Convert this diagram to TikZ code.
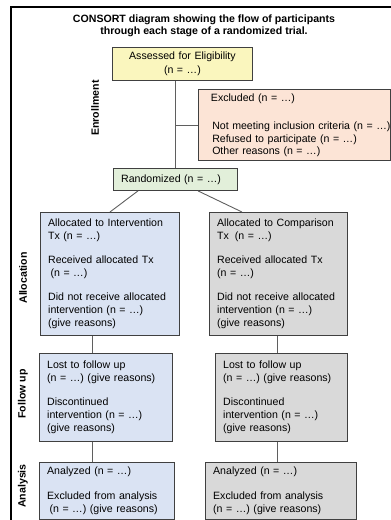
\documentclass[tikz,border=0pt]{standalone}
\usepackage{fontspec}
\setmainfont{Liberation Sans}
\usetikzlibrary{calc}
\definecolor{cyellow}{RGB}{250,246,190}
\definecolor{cpeach}{RGB}{252,228,214}
\definecolor{cgreen}{RGB}{226,239,218}
\definecolor{cblue}{RGB}{218,227,243}
\definecolor{cgray}{RGB}{217,217,217}
\definecolor{cborder}{RGB}{64,64,64}
\definecolor{cline}{RGB}{95,95,95}
\begin{document}
\begin{tikzpicture}[x=1pt,y=-1pt,
  bx/.style={draw=cborder, line width=0.9pt, anchor=north west, inner ysep=0pt,
    inner xsep=7.7pt, align=left, font=\fontsize{10.6}{13}\selectfont},
  lab/.style={rotate=90, inner sep=0pt, font=\fontsize{10.6}{13}\selectfont\bfseries},
  conn/.style={draw=cline, line width=0.9pt},
  frame/.style={draw=black, line width=1.3pt}]
\useasboundingbox (0,0) rectangle (391,520);
\begin{scope}
  \clip (0,0) rectangle (391,520);
  \draw[frame] (11,540) -- (11,7) -- (410,7);
\end{scope}

\node[inner sep=0pt, align=center, font=\fontsize{10.6}{12.3}\selectfont\bfseries] (title) at (204,25.5)
  {CONSORT diagram showing the flow of participants\\through each stage of a randomized trial.};

\node[bx, fill=cyellow, align=center, minimum width=140pt, minimum height=33pt, text width=124.6pt,
  font=\fontsize{10.6}{13.8}\selectfont] (elig) at (112,47) {Assessed for Eligibility\\(n = …)};

\node[bx, fill=cpeach, inner xsep=12.5pt, minimum width=192pt, minimum height=71pt, text width=167pt,
  font=\fontsize{10.6}{12.2}\selectfont] (excl) at (198,89)
  {Excluded (n = …)\\[16.5pt]\mbox{\hspace*{1.3pt}Not meeting inclusion criteria (n = …)}\\\hspace*{1.3pt}Refused to participate (n = …)\\\hspace*{1.3pt}Other reasons (n = …)};

\node[bx, fill=cgreen, minimum width=124pt, minimum height=22pt, text width=108.6pt] (rand) at (113,168)
  {Randomized (n = …)};

\node[bx, fill=cblue, minimum width=139pt, minimum height=123pt, text width=123.6pt] (allocL) at (40,212)
  {\mbox{Allocated to Intervention}\\Tx (n = …)\\[11pt]Received allocated Tx\\\hspace*{2.4pt}(n = …)\\[11pt]\mbox{Did not receive allocated}\\intervention (n = …)\\(give reasons)};

\node[bx, fill=cgray, minimum width=138pt, minimum height=123pt, text width=122.6pt] (allocR) at (209,212)
  {\mbox{Allocated to Comparison}\\Tx\hspace{6pt}(n = …)\\[11pt]Received allocated Tx\\(n = …)\\[11pt]\mbox{Did not receive allocated}\\intervention (n = …)\\(give reasons)};

\node[bx, fill=cblue, minimum width=133pt, minimum height=88pt, text width=117.6pt] (followL) at (39,353)
  {Lost to follow up\\\mbox{(n = …) (give reasons)}\\[11pt]Discontinued\\intervention (n = …)\\(give reasons)};

\node[bx, fill=cgray, minimum width=132pt, minimum height=88pt, text width=116.6pt] (followR) at (215,353)
  {Lost to follow up\\\mbox{(n = …) (give reasons)}\\[11pt]Discontinued\\intervention (n = …)\\(give reasons)};

\node[bx, fill=cblue, minimum width=135pt, minimum height=57pt, text width=119.6pt] (anaL) at (39,462)
  {Analyzed (n = …)\\[12pt]\mbox{Excluded from analysis}\\\mbox{\hspace*{2.4pt}(n = …) (give reasons)}};

\node[bx, fill=cgray, minimum width=151pt, minimum height=57pt, text width=135.6pt] (anaR) at (205,462)
  {Analyzed (n = …)\\[12pt]\mbox{Excluded from analysis}\\\mbox{(n = …) (give reasons)}};

\node[lab] (lenr) at (95,108) {Enrollment};
\node[lab] (lall) at (23,278) {Allocation};
\node[lab] (lfol) at (23,394) {Follow up};
\node[lab] (lana) at (23,486) {Analysis};

\draw[conn] (rand.north |- elig.south) -- (rand.north);
\draw[conn] (rand.north |- excl.west) -- (excl.west);
\draw[conn] ($(rand.south west)+(25,0)$) -- (allocL.north);
\draw[conn] ($(rand.south west)+(85,0)$) -- ($(allocR.north west)+(33,0)$);
\coordinate (cl) at ($(allocL.south west)+(52.3,0)$);
\coordinate (cr) at ($(allocR.south west)+(68,0)$);
\draw[conn] (cl) -- (cl |- followL.north);
\draw[conn] (cr) -- (cr |- followR.north);
\draw[conn] (cl |- followL.south) -- (cl |- anaL.north);
\draw[conn] (cr |- followR.south) -- (cr |- anaR.north);
\end{tikzpicture}
\end{document}
